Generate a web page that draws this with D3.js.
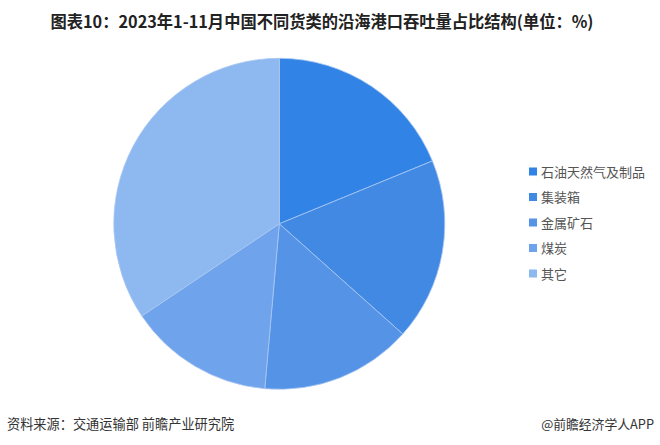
<!DOCTYPE html>
<html><head><meta charset="utf-8">
<script src="https://cdn.jsdelivr.net/npm/d3@7/dist/d3.min.js"></script>
<style>
html,body{margin:0;padding:0;background:#fff;}
svg{display:block;font-family:"Noto Sans CJK SC","Noto Sans",sans-serif;}
</style></head>
<body>
<svg id="chart" width="660" height="445"></svg>
<script>
const categories = ["石油天然气及制品","集装箱","金属矿石","煤炭","其它"];
const values = [18.8, 17.8, 14.8, 14.2, 34.4];
const colors = ["#3283e6","#4189e3","#5593e6","#6fa3eb","#8db8f0"];
const titleText = "图表10：2023年1-11月中国不同货类的沿海港口吞吐量占比结构(单位：%)";
const sourceText = "资料来源：交通运输部 前瞻产业研究院";
const brandText = "@前瞻经济学人APP";

const svg = d3.select("#chart");
const cx = 279.3, cy = 223.8, r = 165.5;

svg.append("text").attr("x", 322).attr("y", 28).attr("text-anchor","middle")
  .attr("font-size", 16.5).attr("font-weight", "bold").attr("fill", "#222")
  .attr("textLength", 543).attr("lengthAdjust","spacingAndGlyphs")
  .text(titleText);

const pie = d3.pie().sort(null).value(d => d.v);
const arc = d3.arc().innerRadius(0).outerRadius(r);
const data = categories.map((c,i)=>({c, v: values[i], col: colors[i]}));
const g = svg.append("g").attr("transform", `translate(${cx},${cy})`);
g.selectAll("path").data(pie(data)).join("path")
  .attr("d", arc).attr("fill", d => d.data.col)
  .attr("stroke", "#a9c8f3").attr("stroke-width", 0.8);

const lg = svg.append("g");
const rowY = d3.scalePoint().domain(categories).range([172, 274]);
categories.forEach((c,i)=>{
  const y = rowY(c);
  lg.append("rect").attr("x", 529).attr("y", y-4.5).attr("width", 8).attr("height", 8).attr("fill", colors[i]);
  lg.append("text").attr("x", 541).attr("y", y+4.5).attr("font-size", 13).attr("fill", "#555").text(c);
});

svg.append("text").attr("x", 7).attr("y", 429).attr("font-size", 13.2).attr("fill", "#333").text(sourceText);
svg.append("text").attr("x", 654).attr("y", 429).attr("text-anchor","end").attr("font-size", 12.8).attr("fill", "#333").text(brandText);
</script>
</body></html>
